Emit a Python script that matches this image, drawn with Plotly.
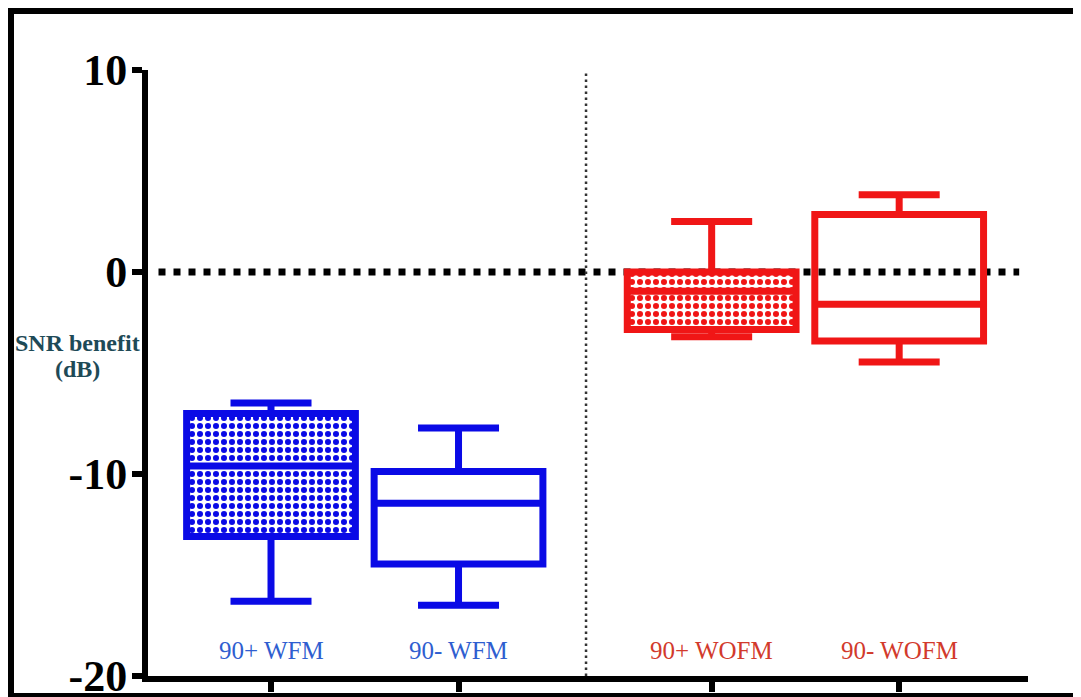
import plotly.graph_objects as go

# ---- data ----
categories = ["90+ WFM", "90- WFM", "90+ WOFM", "90- WOFM"]
x_pos = [1, 2, 3.35, 4.35]
lower_whisker = [-16.3, -16.5, -3.2, -4.45]
q1 = [-13.1, -14.45, -2.85, -3.42]
median = [-9.6, -11.45, -0.95, -1.6]
q3 = [-7.0, -9.88, 0.0, 2.85]
upper_whisker = [-6.48, -7.72, 2.5, 3.82]
patterned = [True, False, True, False]
box_colors = ["#0a0ae6", "#0a0ae6", "#f01616", "#f01616"]
label_colors = ["#2f5ed0", "#2f5ed0", "#d23a2c", "#d23a2c"]
y_ticks = [-20, -10, 0, 10]
divider_x = 2.68

BOX_W = 0.9

fig = go.Figure()

# checkered fills (pattern) behind the patterned boxes
for i in range(len(categories)):
    if patterned[i]:
        fig.add_trace(go.Bar(
            x=[x_pos[i]], base=[q1[i]], y=[q3[i] - q1[i]], width=[BOX_W],
            marker=dict(color="white", line=dict(width=0),
                        pattern=dict(shape=".", fgcolor=box_colors[i], bgcolor="white",
                                     size=8, solidity=0.45, fillmode="replace")),
            showlegend=False, hoverinfo="skip"))

for i in range(len(categories)):
    fig.add_trace(go.Box(
        x=[x_pos[i]], q1=[q1[i]], median=[median[i]], q3=[q3[i]],
        lowerfence=[lower_whisker[i]], upperfence=[upper_whisker[i]],
        width=BOX_W, whiskerwidth=0.48,
        line=dict(color=box_colors[i], width=7),
        fillcolor="rgba(0,0,0,0)",
        boxpoints=False, showlegend=False, name=categories[i]))

# category labels inside plot
for i, c in enumerate(categories):
    fig.add_annotation(x=x_pos[i], y=-18.76, text=c, showarrow=False,
                       font=dict(family="Liberation Serif", size=25, color=label_colors[i]),
                       xanchor="center", yanchor="middle")

# the page body has an 8px margin, so the figure starts at (8, 8) on screen.
# helpers convert absolute screen pixels to paper coordinates
PLOT_L, PLOT_W, PLOT_B, PLOT_H = 148, 880, 676, 606
def px(xabs):
    return (xabs - PLOT_L) / PLOT_W
def py(yabs):
    return (PLOT_B - yabs) / PLOT_H

# y-axis title (two lines)
fig.add_annotation(xref="paper", yref="paper", x=px(77), y=py(343),
                   text="<b>SNR benefit</b>", showarrow=False,
                   font=dict(family="Liberation Serif", size=24, color="#1e4a57"),
                   xanchor="center", yanchor="middle")
fig.add_annotation(xref="paper", yref="paper", x=px(77), y=py(369),
                   text="<b>(dB)</b>", showarrow=False,
                   font=dict(family="Liberation Serif", size=24, color="#1e4a57"),
                   xanchor="center", yanchor="middle")

shapes = []
# zero dotted line
shapes.append(dict(type="line", xref="x", yref="y", x0=0.40, x1=4.99, y0=0, y1=0,
                   line=dict(color="black", width=7, dash="7px,8px"), layer="below"))
# vertical divider
shapes.append(dict(type="line", xref="x", yref="y", x0=divider_x, x1=divider_x, y0=-20, y1=10,
                   line=dict(color="#333333", width=2.5, dash="2.5px,3.5px"), layer="below"))
# image frame
shapes.append(dict(type="line", xref="paper", yref="paper", x0=px(11), x1=px(11), y0=py(2), y1=py(700),
                   line=dict(color="black", width=6)))
shapes.append(dict(type="line", xref="paper", yref="paper", x0=px(5), x1=px(1085), y0=py(11), y1=py(11),
                   line=dict(color="black", width=6)))
shapes.append(dict(type="line", xref="paper", yref="paper", x0=px(5), x1=px(1085), y0=py(695), y1=py(695),
                   line=dict(color="black", width=4)))
shapes.append(dict(type="line", xref="paper", yref="paper", x0=px(1077.5), x1=px(1077.5), y0=py(13), y1=py(694),
                   line=dict(color="#c8c8c8", width=2)))

fig.update_layout(
    width=1073, height=689,
    margin=dict(l=140, r=53, t=62, b=21, autoexpand=False),
    paper_bgcolor="white", plot_bgcolor="white",
    barmode="overlay", showlegend=False,
    shapes=shapes,
    xaxis=dict(range=[0.344, 5.037], showgrid=False, zeroline=False,
               showline=True, linecolor="black", linewidth=6,
               ticks="outside", ticklen=10, tickwidth=6, tickcolor="black",
               tickvals=x_pos, showticklabels=False, fixedrange=True,
               automargin=False),
    yaxis=dict(range=[-20, 10], showgrid=False, zeroline=False,
               showline=True, linecolor="black", linewidth=6,
               ticks="outside", ticklen=10, tickwidth=6, tickcolor="black",
               tickvals=y_ticks, ticktext=[str(v) for v in y_ticks],
               tickfont=dict(family="Liberation Serif", size=44, color="black", weight="bold"),
               ticklabeloverflow="allow",
               fixedrange=True, automargin=False),
)
try:
    fig.update_yaxes(ticklabelstandoff=-4)
except Exception:
    pass

fig.write_html("out.html", config={"displayModeBar": False})
